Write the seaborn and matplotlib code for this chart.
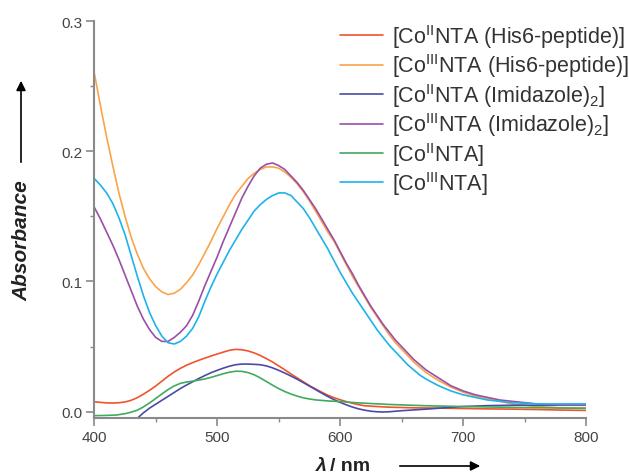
import numpy as np
import pandas as pd
import matplotlib
matplotlib.use("Agg")
import matplotlib.pyplot as plt
import seaborn as sns
from matplotlib.ticker import MultipleLocator

# Absorbance spectra (wavelength in nm, absorbance)
wl_co2_his = [400, 405, 410, 415, 420, 425, 430, 435, 440, 445, 450, 455, 460, 465, 470,
              475, 480, 485, 490, 495, 500, 505, 510, 515, 520, 525, 530, 535, 540, 545,
              550, 555, 560, 565, 570, 575, 580, 585, 590, 595, 600, 605, 610, 615, 620,
              630, 640, 660, 680, 700, 720, 740, 760, 780, 800]
abs_co2_his = [0.0077, 0.0072, 0.0068, 0.0067, 0.0069, 0.0075, 0.0088, 0.0108, 0.0135,
               0.0165, 0.0198, 0.0235, 0.0272, 0.0305, 0.0333, 0.0357, 0.0377, 0.0395,
               0.0412, 0.0428, 0.0443, 0.0458, 0.0472, 0.0479, 0.0476, 0.0467, 0.0452,
               0.0432, 0.0408, 0.0382, 0.0352, 0.0322, 0.0290, 0.0260, 0.0230, 0.0201,
               0.0175, 0.0150, 0.0127, 0.0108, 0.0092, 0.0078, 0.0065, 0.0054, 0.0046,
               0.0040, 0.0035, 0.0030, 0.0028, 0.0025, 0.0022, 0.0020, 0.0017, 0.0013,
               0.0010]

wl_co3_his = [400, 405, 410, 415, 420, 425, 430, 435, 440, 445, 450, 455, 460, 465, 470,
              475, 480, 485, 490, 495, 500, 505, 510, 515, 520, 525, 530, 535, 540, 545,
              550, 555, 560, 565, 570, 575, 580, 585, 590, 595, 600, 605, 610, 615, 620,
              625, 630, 635, 640, 645, 650, 655, 660, 665, 670, 680, 690, 700, 710, 720,
              730, 740, 750, 760, 780, 800]
abs_co3_his = [0.260, 0.235, 0.211, 0.189, 0.168, 0.150, 0.134, 0.121, 0.110, 0.102,
               0.096, 0.092, 0.090, 0.091, 0.094, 0.099, 0.105, 0.113, 0.122, 0.131,
               0.141, 0.150, 0.159, 0.167, 0.173, 0.179, 0.183, 0.186, 0.188, 0.188,
               0.187, 0.184, 0.180, 0.175, 0.169, 0.162, 0.154, 0.146, 0.138, 0.131,
               0.122, 0.113, 0.104, 0.096, 0.088, 0.080, 0.073, 0.066, 0.059, 0.053,
               0.048, 0.043, 0.038, 0.034, 0.030, 0.024, 0.019, 0.015, 0.012, 0.010,
               0.008, 0.006, 0.005, 0.004, 0.003, 0.003]

wl_co2_imi = [432, 435, 440, 445, 450, 455, 460, 465, 470, 475, 480, 485, 490, 495, 500,
              505, 510, 515, 520, 525, 530, 535, 540, 545, 550, 555, 560, 565, 570, 575,
              580, 585, 590, 595, 600, 605, 610, 615, 620, 625, 630, 635, 640, 650, 660,
              670, 680, 690, 700, 720, 740, 770, 800]
abs_co2_imi = [-0.0070, -0.0050, -0.0008, 0.0028, 0.0058, 0.0088, 0.0118, 0.0148, 0.0178,
               0.0205, 0.0230, 0.0255, 0.0278, 0.0300, 0.0318, 0.0335, 0.0350, 0.0361,
               0.0366, 0.0366, 0.0364, 0.0361, 0.0352, 0.0337, 0.0318, 0.0297, 0.0274,
               0.0250, 0.0224, 0.0197, 0.0170, 0.0143, 0.0117, 0.0093, 0.0072, 0.0053,
               0.0036, 0.0022, 0.0012, 0.0004, 0.0000, -0.0002, 0.0000, 0.0008, 0.0014,
               0.0020, 0.0027, 0.0034, 0.0040, 0.0047, 0.0050, 0.0050, 0.0051]

wl_co3_imi = [400, 405, 410, 415, 420, 425, 430, 435, 440, 445, 450, 455, 460, 465, 470,
              475, 480, 485, 490, 495, 500, 505, 510, 515, 520, 525, 530, 535, 540, 545,
              550, 555, 560, 565, 570, 575, 580, 585, 590, 595, 600, 605, 610, 615, 620,
              625, 630, 635, 640, 645, 650, 655, 660, 665, 670, 680, 690, 700, 710, 720,
              730, 740, 760, 780, 800]
abs_co3_imi = [0.157, 0.148, 0.138, 0.128, 0.117, 0.105, 0.093, 0.081, 0.071, 0.063,
               0.057, 0.054, 0.054, 0.057, 0.061, 0.066, 0.074, 0.085, 0.097, 0.108,
               0.119, 0.131, 0.142, 0.153, 0.164, 0.173, 0.181, 0.187, 0.190, 0.191,
               0.189, 0.186, 0.181, 0.176, 0.170, 0.163, 0.156, 0.148, 0.140, 0.132,
               0.123, 0.114, 0.106, 0.097, 0.089, 0.081, 0.074, 0.067, 0.061, 0.055,
               0.050, 0.045, 0.040, 0.036, 0.032, 0.026, 0.020, 0.016, 0.013, 0.011,
               0.009, 0.008, 0.006, 0.005, 0.005]

wl_co2_nta = [400, 410, 418, 425, 430, 435, 440, 445, 450, 455, 460, 465, 470, 475, 480,
              485, 490, 495, 500, 505, 510, 515, 520, 525, 530, 535, 540, 545, 550, 555,
              560, 565, 570, 575, 580, 590, 600, 615, 640, 670, 700, 750, 800]
abs_co2_nta = [-0.0030, -0.0028, -0.0025, -0.0015, -0.0003, 0.0012, 0.0037, 0.0068,
               0.0102, 0.0137, 0.0170, 0.0198, 0.0218, 0.0228, 0.0235, 0.0243, 0.0252,
               0.0264, 0.0278, 0.0292, 0.0304, 0.0311, 0.0310, 0.0301, 0.0284, 0.0260,
               0.0232, 0.0204, 0.0178, 0.0155, 0.0136, 0.0120, 0.0107, 0.0098, 0.0091,
               0.0083, 0.0078, 0.0068, 0.0056, 0.0046, 0.0040, 0.0032, 0.0026]

wl_co3_nta = [400, 405, 410, 415, 420, 425, 430, 435, 440, 445, 450, 455, 460, 465, 470,
              475, 480, 485, 490, 495, 500, 505, 510, 515, 520, 525, 530, 535, 540, 545,
              550, 555, 560, 565, 570, 575, 580, 585, 590, 595, 600, 605, 610, 615, 620,
              625, 630, 635, 640, 645, 650, 655, 660, 665, 670, 680, 690, 700, 710, 720,
              740, 760, 780, 800]
abs_co3_nta = [0.179, 0.174, 0.168, 0.160, 0.149, 0.136, 0.120, 0.104, 0.089, 0.076,
               0.066, 0.058, 0.053, 0.052, 0.054, 0.058, 0.064, 0.073, 0.085, 0.096,
               0.106, 0.115, 0.124, 0.132, 0.140, 0.147, 0.154, 0.159, 0.163, 0.166,
               0.168, 0.168, 0.166, 0.161, 0.156, 0.149, 0.141, 0.133, 0.125, 0.116,
               0.107, 0.099, 0.091, 0.084, 0.077, 0.070, 0.063, 0.057, 0.051, 0.046,
               0.041, 0.036, 0.032, 0.028, 0.025, 0.020, 0.016, 0.013, 0.011, 0.009,
               0.007, 0.006, 0.006, 0.006]

labels = [
    r"[Co$^{\mathrm{II}}$NTA (His6-peptide)]",
    r"[Co$^{\mathrm{III}}$NTA (His6-peptide)]",
    r"[Co$^{\mathrm{II}}$NTA (Imidazole)$_{\mathrm{2}}$]",
    r"[Co$^{\mathrm{III}}$NTA (Imidazole)$_{\mathrm{2}}$]",
    r"[Co$^{\mathrm{II}}$NTA]",
    r"[Co$^{\mathrm{III}}$NTA]",
]
colors = ["#F0532D", "#F9A448", "#4A4BA6", "#9A4FA6", "#40AA5E", "#1DB3EA"]

series = [(wl_co2_his, abs_co2_his), (wl_co3_his, abs_co3_his),
          (wl_co2_imi, abs_co2_imi), (wl_co3_imi, abs_co3_imi),
          (wl_co2_nta, abs_co2_nta), (wl_co3_nta, abs_co3_nta)]

frames = []
for lab, (w, a) in zip(labels, series):
    frames.append(pd.DataFrame({"wl": w, "A": a, "sample": lab}))
df = pd.concat(frames, ignore_index=True)

sns.set_style("white")
plt.rcParams["font.family"] = ["Liberation Sans", "DejaVu Sans"]
plt.rcParams["mathtext.fontset"] = "custom"
plt.rcParams["mathtext.rm"] = "Liberation Sans"
plt.rcParams["mathtext.it"] = "Liberation Sans:italic"
plt.rcParams["mathtext.bf"] = "Liberation Sans:bold"

fig = plt.figure(figsize=(6.29, 4.77), dpi=100)
ax = fig.add_axes([94.3 / 629, 1 - 419 / 477, (586 - 94.3) / 629, (419 - 22) / 477])

sns.lineplot(data=df, x="wl", y="A", hue="sample", hue_order=labels,
             palette=colors, estimator=None, sort=False, lw=1.2, ax=ax)

ax.set_xlim(400, 800)
ax.set_ylim(-0.0048, 0.3)
ax.xaxis.set_major_locator(MultipleLocator(100))
ax.xaxis.set_minor_locator(MultipleLocator(50))
ax.yaxis.set_major_locator(MultipleLocator(0.1))
ax.yaxis.set_minor_locator(MultipleLocator(0.05))
ax.set_yticks([0.0, 0.1, 0.2, 0.3])
ax.set_yticklabels(["0.0", "0.1", "0.2", "0.3"])

spine_c = "#8a8a8a"
for side in ["top", "right"]:
    ax.spines[side].set_visible(False)
for side in ["left", "bottom"]:
    ax.spines[side].set_color(spine_c)
    ax.spines[side].set_linewidth(1.5)
ax.tick_params(which="major", direction="out", length=5.5, width=1.2, color=spine_c,
               labelsize=11, labelcolor="#444444", pad=3, left=True, bottom=True)
ax.tick_params(which="minor", direction="out", length=3, width=1.0, color=spine_c,
               left=True, bottom=True)
ax.set_xlabel("")
ax.set_ylabel("")

handles, labs = ax.get_legend_handles_labels()
leg = ax.legend(handles, labs, loc="upper left", bbox_to_anchor=(340 / 629, 1 - 23 / 477),
                bbox_transform=fig.transFigure, frameon=False, fontsize=15.5,
                handlelength=2.0, handletextpad=0.42, labelspacing=0.07,
                borderpad=0, borderaxespad=0)
for t in leg.get_texts():
    t.set_color("#333333")

# axis titles with direction arrows
fig.text(22 / 629, 1 - 241 / 477, "Absorbance", rotation=90, ha="center", va="center",
         fontsize=15, fontweight="bold", style="italic", color="#222222")
ax.annotate("", xy=(21 / 629, 1 - 79 / 477), xytext=(21 / 629, 1 - 166 / 477),
            xycoords="figure fraction", textcoords="figure fraction",
            arrowprops=dict(arrowstyle="-|>", color="black", lw=1.2, mutation_scale=14))
fig.text(321 / 629, 1 - 467 / 477, "λ", ha="center", va="center",
         fontsize=14, fontweight="bold", style="italic", color="#222222")
fig.text(330 / 629, 1 - 467 / 477, "/ nm", ha="left", va="center",
         fontsize=14, fontweight="bold", color="#222222")
ax.annotate("", xy=(483 / 629, 1 - 467 / 477), xytext=(397 / 629, 1 - 467 / 477),
            xycoords="figure fraction", textcoords="figure fraction",
            arrowprops=dict(arrowstyle="-|>", color="black", lw=1.2, mutation_scale=14))

fig.savefig("out.png", dpi=100)
